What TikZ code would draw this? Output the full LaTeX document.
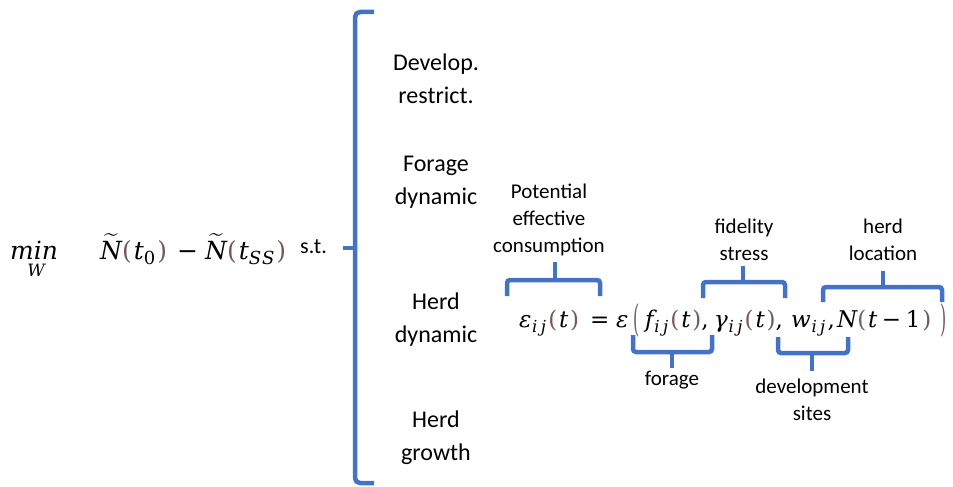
\documentclass[tikz,border=0pt]{standalone}
\usepackage{fontspec}
\usepackage{amsmath}
\usepackage{graphicx}
\setmainfont{Carlito}
\newfontfamily\mf{DejaVu Serif}
\definecolor{brk}{RGB}{68,114,196}
\definecolor{par}{RGB}{120,88,88}
\newcommand{\mi}[1]{{\mf\itshape #1}}
\newcommand{\mo}[1]{{\mf #1}}
\newcommand{\sbx}[1]{\raisebox{-0.22em}{\scalebox{0.72}{\mf\itshape #1}}}
\newcommand{\pl}{{\mf\color{par}(}\kern0.08em}
\newcommand{\pr}{\kern0.08em{\mf\color{par})}}
\newcommand{\sij}{\kern0.03em\sbx{i\kern0.2em j}\kern0.1em}
\begin{document}
\begin{tikzpicture}[x=1pt,y=-1pt,
  lbl/.style={font=\fontsize{24}{33}\selectfont, align=center, inner sep=0pt},
  sml/.style={font=\fontsize{21}{27}\selectfont, align=center, inner sep=0pt},
  eqn/.style={font=\fontsize{23}{27}\selectfont, inner sep=0pt, anchor=base west},
  obj/.style={font=\fontsize{25}{30}\selectfont, inner sep=0pt, anchor=base west},
  bigp/.style={font=\fontsize{21}{26}\selectfont, inner sep=0pt, text=par},
  brace/.style={draw=brk, line width=4.5pt, rounded corners=3pt},
  tip/.style={draw=brk, line width=4.5pt}]
\useasboundingbox (0,0) rectangle (953,487);
% objective
\node[obj] (min) at (10,259) {\mi{min}};
\node[obj, font=\fontsize{17}{20}\selectfont, anchor=base] (w) at (36,276) {\mi{W}};
\node[obj] (o1) at (100,259) {$\widetilde{\mbox{\mi{N}}}$\pl\mi{t}\sbx{\upshape 0}\pr};
\node[obj] (mn) at (177,259) {\mo{−}};
\node[obj] (o2) at (205,259) {$\widetilde{\mbox{\mi{N}}}$\pl\mi{t}\sbx{S\kern0.05em S}\pr};
\node[font=\fontsize{22}{26}\selectfont, inner sep=0pt, anchor=base west] (st) at (300,253) {s.t.};
% big bracket
\coordinate (bt) at (374,12);
\coordinate (bb) at (374,483);
\coordinate (bm) at (343,248);
\draw[brace, rounded corners=5pt] (bt) -| (355,248) |- (bb);
\draw[tip] (bm) -- (356,248);
% constraint labels
\node[lbl] (dev) at (436,79) {Develop.\\restrict.};
\node[lbl] (for) at (436,182) {Forage\\dynamic};
\node[lbl] (hdy) at (436,320) {Herd\\dynamic};
\node[lbl] (hgr) at (436,438) {Herd\\growth};
% equation
\node[eqn] (e1) at (519,327) {\mi{ε}\sij\pl\mi{t}\pr};
\node[eqn] (eqs) at (590,327) {\mo{=}};
\node[eqn] (e2) at (616,327) {\mi{ε}};
\node[bigp] (lp) at (637,320) {\scalebox{0.75}[1.75]{\mf (}};
\node[eqn] (e3) at (645,327) {\mi{f}\sij\pl\mi{t}\pr\mo{,}};
\node[eqn] (e4) at (714,327) {\mi{γ}\sij\pl\mi{t}\pr\mo{,}};
\node[eqn] (e5) at (791,327) {\mi{w}\sij\mo{,}};
\node[eqn] (e6) at (837,327) {\mi{N}\pl\mi{t}\hspace{0.2em}\mo{−}\hspace{0.2em}\mo{1}\pr};
\node[bigp] (rp) at (944,320) {\scalebox{0.75}[1.75]{\mf )}};
% upper braces
\draw[brace] (507,296) |- (600,280) -- (600,296);
\draw[tip] (555,281) -- (555,262);
\node[sml] (pec) at (549,220) {Potential\\effective\\consumption};
\draw[brace] (703,298) |- (785,282) -- (785,298);
\draw[tip] (743,283) -- (743,266);
\node[sml] (fid) at (744,240) {fidelity\\stress};
\draw[brace] (823,302) |- (942,287) -- (942,302);
\draw[tip] (883,288) -- (883,271);
\node[sml] (hl) at (883,240) {herd\\location};
% lower braces
\draw[brace] (633,335) |- (712,352) -- (712,335);
\draw[tip] (672,351) -- (672,368);
\node[sml] (fo) at (672,380) {forage};
\draw[brace] (778,337) |- (848,353) -- (848,337);
\draw[tip] (812,352) -- (812,371);
\node[sml] (ds) at (812,400) {development\\sites};
\end{tikzpicture}
\end{document}
